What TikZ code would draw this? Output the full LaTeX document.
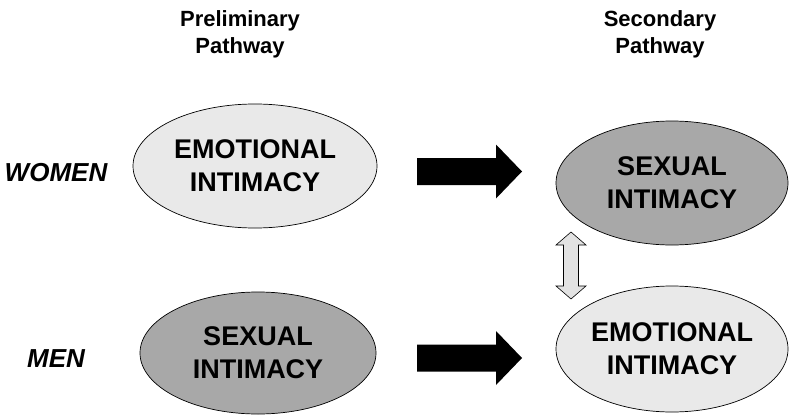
\documentclass[tikz,border=0pt]{standalone}
\usepackage{fontspec}
\setmainfont{Liberation Sans}
\usetikzlibrary{shapes.geometric}

\definecolor{lightgrey}{HTML}{E9E9E9}
\definecolor{darkgrey}{HTML}{A8A8A8}
\definecolor{swapgrey}{HTML}{E2E2E2}

\tikzset{
    pathway/.style={ellipse, draw=black, line width=0.7pt, align=center, inner sep=0pt,
        text depth=0pt, font=\bfseries\fontsize{27}{33}\selectfont},
    emotional/.style={pathway, fill=lightgrey},
    sexual/.style={pathway, fill=darkgrey},
    heading/.style={anchor=north, align=center, inner sep=0pt,
        font=\bfseries\fontsize{22}{27}\selectfont},
    group/.style={inner sep=0pt, font=\bfseries\itshape\fontsize{26}{30}\selectfont},
    blockarrow/.style={fill=black},
    swaparrow/.style={draw=black, line width=0.6pt, fill=swapgrey, line join=miter}
}

\begin{document}
\begin{tikzpicture}[x=1pt, y=-1pt]
    \useasboundingbox (0,0) rectangle (792,420);

    % Column headings
    \node[heading] (prelim) at (240,10) {Preliminary\\Pathway};
    \node[heading] (second) at (660,10) {Secondary\\Pathway};

    % Row labels
    \node[group] (women) at (56,173) {WOMEN};
    \node[group] (men) at (56,359) {MEN};

    % Women: emotional first, then sexual
    \node[emotional, minimum width=244pt, minimum height=124pt] (we) at (255,166) {EMOTIONAL\\INTIMACY};
    \node[sexual, minimum width=232pt, minimum height=124pt] (ws) at (672,183) {SEXUAL\\INTIMACY};

    % Men: sexual first, then emotional
    \node[sexual, minimum width=236pt, minimum height=122pt] (ms) at (258,353) {SEXUAL\\INTIMACY};
    \node[emotional, minimum width=232pt, minimum height=126pt] (me) at (672,349) {EMOTIONAL\\INTIMACY};

    % Block arrows between the pathways
    \coordinate (wa) at (417,171.5);
    \coordinate (ma) at (417,358);
    \foreach \a in {wa,ma} {
        \fill[blockarrow] (\a) ++(0,-13.5) -- ++(79,0) -- ++(0,-13.5) -- ++(26,27)
            -- ++(-26,27) -- ++(0,-13.5) -- ++(-79,0) -- cycle;
    }

    % Two-way arrow between the secondary pathways
    \coordinate (swap) at (571,265.5);
    \draw[swaparrow] (swap) ++(0,-33.5) -- ++(15,13) -- ++(-7.5,0) -- ++(0,41) -- ++(7.5,0)
        -- ++(-15,13) -- ++(-15,-13) -- ++(7.5,0) -- ++(0,-41) -- ++(-7.5,0) -- cycle;

\end{tikzpicture}
\end{document}
